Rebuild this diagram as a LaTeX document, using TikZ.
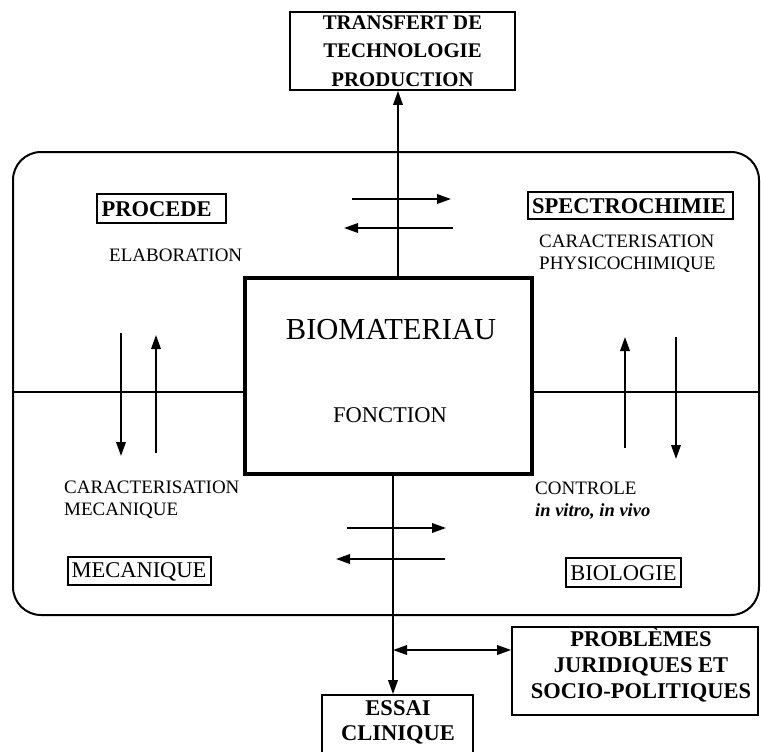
\documentclass[tikz,border=0pt]{standalone}
\usepackage{fontspec}
\setmainfont{Liberation Serif}
\usetikzlibrary{arrows.meta}
\begin{document}
\begin{tikzpicture}[x=1pt,y=-1pt,
  rule/.style={line width=1.9pt},
  arr/.style={line width=1.9pt,-{Triangle[length=14pt,width=9.5pt]}},
  dblarr/.style={line width=1.9pt,{Triangle[length=14pt,width=9.5pt]}-{Triangle[length=14pt,width=9.5pt]}},
  labelbox/.style={draw,line width=1.7pt,inner sep=0pt},
  txt/.style={inner sep=0pt},
  small/.style={font=\fontsize{19}{22}\selectfont},
  big/.style={font=\fontsize{22.5}{26}\selectfont},
  bigbold/.style={font=\fontsize{22.5}{26}\selectfont\bfseries},
]
\useasboundingbox (0,0) rectangle (761,752);
\clip (0,0) rectangle (761,752);

% outer rounded frame and central box
\node[draw,line width=2pt,rounded corners=28pt,inner sep=0pt,
      minimum width=746pt,minimum height=463pt] (frame) at (386,383.5) {};
\node[draw,line width=3.2pt,inner sep=0pt,
      minimum width=287pt,minimum height=196pt] (bio) at (388.5,376) {};
\node[txt,font=\fontsize{30.5}{36}\selectfont] (biotitle) at (391,330) {BIOMATERIAU};
\node[txt,big] (fonction) at (390,415) {FONCTION};

% top and bottom boxes outside the frame
\node[labelbox,minimum width=225pt,minimum height=78pt,align=center,
      font=\fontsize{20.8}{28.5}\selectfont\bfseries] (transfer) at (402.5,51)
      {TRANSFERT DE\\TECHNOLOGIE\\PRODUCTION};
\node[labelbox,minimum width=246pt,minimum height=88pt] (probleme) at (635,671) {};
\node[txt,bigbold,align=center] (problemetext) at (641,664.5)
      {PROBLÈMES\\JURIDIQUES ET\\SOCIO-POLITIQUES};
\node[labelbox,minimum width=151pt,minimum height=75pt] (essai) at (397.5,732.5) {};
\node[txt,font=\fontsize{22.5}{25}\selectfont\bfseries,align=center] (essaitext)
      at (398,722) {ESSAI\\CLINIQUE};

% quadrant labels
\node[labelbox,minimum width=129pt,minimum height=29pt] (procbox) at (161.5,208.5) {};
\node[txt,bigbold,anchor=west] (proc) at (101.5,209) {PROCEDE};
\node[txt,small,anchor=west] (elab) at (109,255) {ELABORATION};

\node[labelbox,minimum width=205pt,minimum height=27pt] (specbox) at (630.5,205.5) {};
\node[txt,bigbold] (spec) at (629,206) {SPECTROCHIMIE};
\node[txt,small,anchor=north west,align=left] (physico) at (539,235)
      {CARACTERISATION\\PHYSICOCHIMIQUE};

\node[txt,small,anchor=north west,align=left] (meca) at (64,481)
      {CARACTERISATION\\MECANIQUE};
\node[labelbox,minimum width=143pt,minimum height=28pt] (mecabox) at (139.5,571) {};
\node[txt,big] (mecatext) at (139,571.5) {MECANIQUE};

\node[txt,small,anchor=west] (controle) at (535,488) {CONTROLE};
\node[txt,anchor=base west,font=\fontsize{18.5}{22}\selectfont\bfseries\itshape]
      (invitro) at (535,516) {in vitro, in vivo};
\node[labelbox,minimum width=115pt,minimum height=29pt] (biobox) at (623.5,572.5) {};
\node[txt,big] (biotext) at (623.5,573) {BIOLOGIE};

% axis lines through the frame
\draw[rule] (frame.west |- 0,392) -- (bio.west |- 0,392);
\draw[rule] (bio.east |- 0,392) -- (frame.east |- 0,392);

\coordinate (topfoot) at (398,278);
\draw[arr] (topfoot) -- (topfoot |- transfer.south);
\coordinate (botfoot) at (393,474);
\draw[arr] (botfoot) -- (botfoot |- essai.north);
\coordinate (branch) at (393,650);
\draw[dblarr] (branch) -- (branch -| probleme.west);

% exchange arrows, top
\coordinate (tr1) at (352,199); \coordinate (tr2) at (451,199);
\coordinate (tl1) at (453,228); \coordinate (tl2) at (344,228);
\draw[arr] (tr1) -- (tr2);
\draw[arr] (tl1) -- (tl2);
% exchange arrows, bottom
\coordinate (br1) at (347,528); \coordinate (br2) at (446,528);
\coordinate (bl1) at (445,559); \coordinate (bl2) at (336,559);
\draw[arr] (br1) -- (br2);
\draw[arr] (bl1) -- (bl2);
% exchange arrows, left
\coordinate (ld1) at (121,333); \coordinate (ld2) at (121,456);
\coordinate (lu1) at (156,453); \coordinate (lu2) at (156,335);
\draw[arr] (ld1) -- (ld2);
\draw[arr] (lu1) -- (lu2);
% exchange arrows, right
\coordinate (ru1) at (625,448); \coordinate (ru2) at (625,337);
\coordinate (rd1) at (676,337); \coordinate (rd2) at (676,459);
\draw[arr] (ru1) -- (ru2);
\draw[arr] (rd1) -- (rd2);
\end{tikzpicture}
\end{document}
